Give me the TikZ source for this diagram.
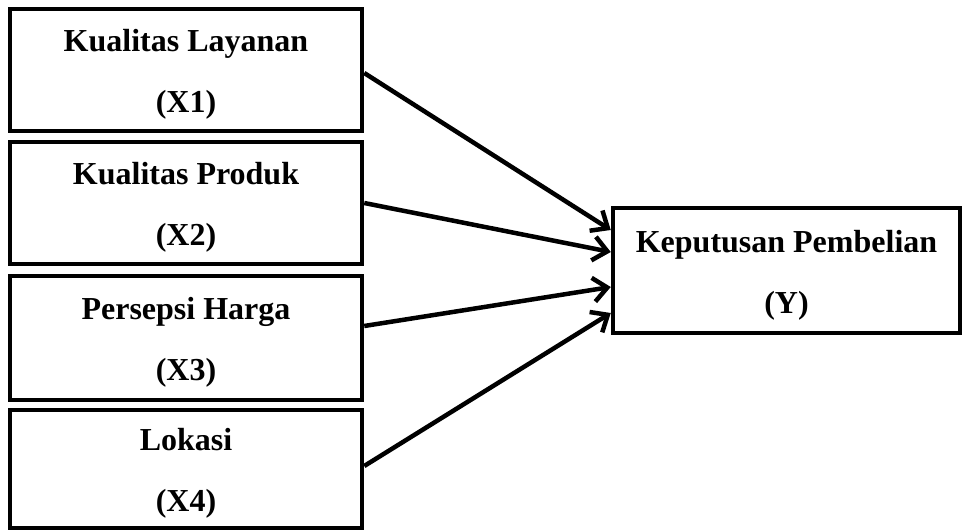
\documentclass[tikz,border=0pt]{standalone}
\usepackage{fontspec}
\setmainfont{Liberation Serif}
\usetikzlibrary{arrows.meta}
\newcommand{\twoline}[2]{\rule{0pt}{31pt}#1\\#2}

\begin{document}
\begin{tikzpicture}[x=1pt,y=-1pt,
	varbox/.style={draw,line width=4.5pt,inner sep=0pt,minimum width=352pt,minimum height=122pt,align=center,font=\bfseries\fontsize{32}{61}\selectfont},
	link/.style={line width=4.5pt,-{Straight Barb[length=14pt,width=24pt]}}]
	\useasboundingbox (0,0) rectangle (962,532);
	\node[varbox] (x1) at (186,70) {\twoline{Kualitas Layanan}{(X1)}};
	\node[varbox] (x2) at (186,203) {\twoline{Kualitas Produk}{(X2)}};
	\node[varbox,minimum height=124pt] (x3) at (186,338) {\twoline{Persepsi Harga}{(X3)}};
	\node[varbox,minimum height=118pt] (x4) at (186,469) {\twoline{Lokasi}{(X4)}};
	\node[varbox,minimum width=347pt,minimum height=125pt] (y) at (786.5,270.5) {\twoline{Keputusan Pembelian}{(Y)}};
	\draw[link] ([yshift=-3pt]x1.east) -- ([yshift=40.5pt]y.west);
	\draw[link] (x2.east) -- ([yshift=18.5pt]y.west);
	\draw[link] ([yshift=12pt]x3.east) -- ([yshift=-16.5pt]y.west);
	\draw[link] ([yshift=3pt]x4.east) -- ([yshift=-42.5pt]y.west);
\end{tikzpicture}
\end{document}
